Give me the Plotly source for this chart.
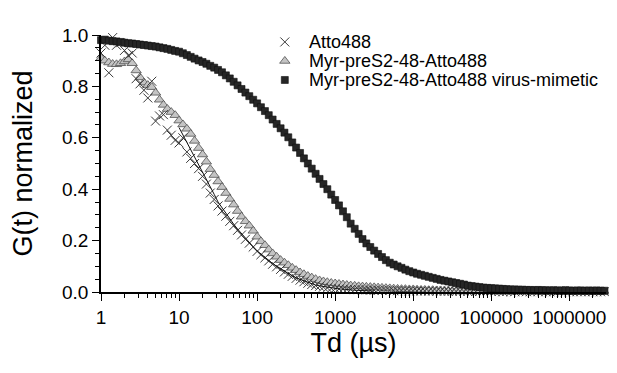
import plotly.graph_objects as go

# Lag times (µs)
TAU = [
    1.00, 1.12, 1.26, 1.41, 1.58, 1.78, 2.00, 2.24, 2.51, 2.82, 3.16, 3.55, 3.98, 4.47, 5.01, 5.62, 6.31, 7.08, 7.94, 8.91,
    10.0, 11.2, 12.6, 14.1, 15.8, 17.8, 20.0, 22.4, 25.1, 28.2, 31.6, 35.5, 39.8, 44.7, 50.1, 56.2, 63.1, 70.8, 79.4, 89.1,
    100, 112, 126, 141, 158, 178, 200, 224, 251, 282, 316, 355, 398, 447, 501, 562, 631, 708, 794, 891,
    1000, 1120, 1260, 1410, 1580, 1780, 2000, 2240, 2510, 2820, 3160, 3550, 3980, 4470, 5010, 5620, 6310, 7080, 7940, 8910,
    1.00e4, 1.12e4, 1.26e4, 1.41e4, 1.58e4, 1.78e4, 2.00e4, 2.24e4, 2.51e4, 2.82e4,
    3.16e4, 3.55e4, 3.98e4, 4.47e4, 5.01e4, 5.62e4, 6.31e4, 7.08e4, 7.94e4, 8.91e4,
    1.00e5, 1.12e5, 1.26e5, 1.41e5, 1.58e5, 1.78e5, 2.00e5, 2.24e5, 2.51e5, 2.82e5,
    3.16e5, 3.55e5, 3.98e5, 4.47e5, 5.01e5, 5.62e5, 6.31e5, 7.08e5, 7.94e5, 8.91e5,
    1.00e6, 1.12e6, 1.26e6, 1.41e6, 1.58e6, 1.78e6, 2.00e6, 2.24e6, 2.51e6, 2.82e6,
]

ATTO488 = [
    0.93, 0.96, 0.853, 0.99, 0.96, 0.97, 0.94, 0.92, 0.93, 0.83, 0.81, 0.785, 0.755, 0.82, 0.665, 0.685, 0.69, 0.63, 0.61, 0.59,
    0.58, 0.60, 0.545, 0.52, 0.50, 0.48, 0.45, 0.42, 0.385, 0.36, 0.335, 0.315, 0.295, 0.275, 0.258, 0.24, 0.222, 0.205, 0.19, 0.175,
    0.158, 0.145, 0.133, 0.121, 0.108, 0.098, 0.088, 0.078, 0.069, 0.061, 0.053, 0.046, 0.040, 0.034, 0.029, 0.025, 0.022, 0.019, 0.016, 0.014,
    0.013, 0.012, 0.011, 0.010, 0.010, 0.009, 0.009, 0.008, 0.008, 0.007, 0.007, 0.007, 0.006, 0.006, 0.006, 0.005, 0.005, 0.005, 0.005, 0.004,
    0.004, 0.004, 0.004, 0.004, 0.003, 0.004, 0.003, 0.003, 0.003, 0.003, 0.003, 0.002, 0.003, 0.002, 0.002, 0.003, 0.002, 0.002, 0.002, 0.002,
    0.002, 0.001, 0.002, 0.001, 0.002, 0.001, 0.001, 0.002, 0.001, 0.001, 0.001, 0.002, 0.001, 0.001, 0.001, 0.001, 0.001, 0.002, 0.001, 0.001,
    0.001, 0.001, 0.001, 0.001, 0.001, 0.001, 0.001, 0.001, 0.001, 0.001,
]

# Fit curve through the Atto488 data, from TAU[20] (10 µs) onward
FIT_START = 20
ATTO488_FIT = [
    0.640, 0.612, 0.584, 0.556, 0.528, 0.500, 0.470, 0.440, 0.410, 0.380, 0.350, 0.327, 0.305, 0.284, 0.264, 0.245, 0.227, 0.209, 0.192, 0.176,
    0.160, 0.147, 0.135, 0.123, 0.111, 0.100, 0.090, 0.080, 0.071, 0.063, 0.055, 0.049, 0.043, 0.037, 0.032, 0.027, 0.024, 0.021, 0.018, 0.016,
    0.014, 0.012, 0.011, 0.009, 0.008, 0.007, 0.006, 0.006, 0.005, 0.005, 0.004,
]

MYR = [
    0.91, 0.90, 0.893, 0.887, 0.886, 0.89, 0.897, 0.905, 0.89, 0.862, 0.835, 0.815, 0.805, 0.797, 0.775, 0.748, 0.728, 0.712, 0.70, 0.688,
    0.667, 0.652, 0.635, 0.615, 0.588, 0.56, 0.535, 0.507, 0.478, 0.455, 0.43, 0.408, 0.385, 0.362, 0.34, 0.315, 0.293, 0.275, 0.258, 0.238,
    0.215, 0.197, 0.182, 0.165, 0.15, 0.137, 0.124, 0.114, 0.104, 0.094, 0.085, 0.076, 0.069, 0.062, 0.056, 0.050, 0.045, 0.041, 0.038, 0.035,
    0.033, 0.031, 0.029, 0.027, 0.025, 0.024, 0.022, 0.021, 0.020, 0.019, 0.018, 0.017, 0.016, 0.015, 0.014, 0.013, 0.012, 0.011, 0.011, 0.010,
    0.010, 0.009, 0.008, 0.008, 0.007, 0.007, 0.006, 0.006, 0.005, 0.005, 0.004, 0.004, 0.004, 0.004, 0.003, 0.003, 0.003, 0.003, 0.003, 0.003,
    0.002, 0.003, 0.002, 0.002, 0.002, 0.002, 0.002, 0.001, 0.002, 0.002, 0.001, 0.002, 0.001, 0.002, 0.001, 0.001, 0.002, 0.001, 0.001, 0.001,
    0.001, 0.001, 0.001, 0.001, 0.001, 0.001, 0.001, 0.001, 0.001, 0.001,
]

VIRUS = [
    0.980, 0.982, 0.978, 0.976, 0.975, 0.973, 0.970, 0.968, 0.967, 0.965, 0.963, 0.961, 0.959, 0.957, 0.955, 0.952, 0.949, 0.946, 0.942, 0.938,
    0.935, 0.929, 0.922, 0.915, 0.908, 0.901, 0.895, 0.888, 0.880, 0.873, 0.864, 0.855, 0.843, 0.831, 0.818, 0.804, 0.790, 0.776, 0.762, 0.748,
    0.734, 0.719, 0.704, 0.688, 0.671, 0.654, 0.637, 0.620, 0.602, 0.582, 0.562, 0.541, 0.520, 0.500, 0.480, 0.460, 0.440, 0.420, 0.400, 0.379,
    0.358, 0.337, 0.314, 0.291, 0.266, 0.246, 0.226, 0.206, 0.189, 0.175, 0.161, 0.148, 0.136, 0.124, 0.114, 0.107, 0.100, 0.094, 0.087, 0.081,
    0.076, 0.071, 0.067, 0.063, 0.059, 0.055, 0.051, 0.047, 0.044, 0.041, 0.038, 0.035, 0.032, 0.029, 0.025, 0.023, 0.021, 0.019, 0.017, 0.016,
    0.015, 0.014, 0.013, 0.012, 0.011, 0.010, 0.010, 0.009, 0.009, 0.008, 0.008, 0.007, 0.008, 0.007, 0.007, 0.006, 0.007, 0.006, 0.006, 0.007,
    0.006, 0.005, 0.006, 0.006, 0.005, 0.006, 0.005, 0.006, 0.005, 0.005,
]

SERIES_NAMES = ["Atto488", "Myr-preS2-48-Atto488", "Myr-preS2-48-Atto488 virus-mimetic"]
X_TICKS = [1, 10, 100, 1000, 10000, 100000, 1000000]
X_TICKTEXT = ["1", "10", "100", "1000", "10000", "100000", "1000000"]
Y_TICKS = [0.0, 0.2, 0.4, 0.6, 0.8, 1.0]

FONT = "Liberation Sans, Arial, sans-serif"
CROSS = dict(symbol="x-thin", size=9, line=dict(width=1, color="#3a3a3a"))
TRI = dict(symbol="triangle-up", size=9, color="#c4c4c4", line=dict(width=0.8, color="#505050"))
SQ = dict(symbol="square", size=7, color="#262626", line=dict(width=0.6, color="#111111"))

fig = go.Figure()
fig.add_trace(go.Scatter(x=TAU, y=MYR, mode="markers", marker=TRI, cliponaxis=False,
                         name=SERIES_NAMES[1], showlegend=False))
fig.add_trace(go.Scatter(x=TAU, y=ATTO488, mode="markers", marker=CROSS, cliponaxis=False,
                         name=SERIES_NAMES[0], showlegend=False))
fig.add_trace(go.Scatter(x=TAU[FIT_START:FIT_START + len(ATTO488_FIT)], y=ATTO488_FIT, mode="lines",
                         line=dict(color="#111111", width=1), cliponaxis=False,
                         name="fit", showlegend=False))
fig.add_trace(go.Scatter(x=TAU, y=VIRUS, mode="markers", marker=SQ, cliponaxis=False,
                         name=SERIES_NAMES[2], showlegend=False))

# Hand-placed legend (symbols on an overlay axis in plot-fraction units, text as annotations)
LEG_X = 0.364
LEG_TX = 0.408
LEG_Y = [0.973, 0.899, 0.825]
for yy, mk in zip(LEG_Y, [CROSS, TRI, SQ]):
    fig.add_trace(go.Scatter(x=[LEG_X], y=[yy], xaxis="x2", yaxis="y2", mode="markers",
                             marker=mk, cliponaxis=False, showlegend=False, hoverinfo="skip"))
for yy, name in zip(LEG_Y, SERIES_NAMES):
    fig.add_annotation(x=LEG_TX, y=yy, xref="paper", yref="paper", text=name, showarrow=False,
                       xanchor="left", yanchor="middle", font=dict(family=FONT, size=18, color="#000"))

minor_x = [m * 10 ** d for d in range(0, 7) for m in range(2, 10)]

# the page body has an 8px margin, so the figure is sized/offset to compensate
fig.update_layout(
    width=601, height=357,
    margin=dict(l=93, r=3, t=27, b=73),
    paper_bgcolor="white", plot_bgcolor="white",
    font=dict(family=FONT, color="#000"),
    showlegend=False,
    xaxis=dict(
        type="log", range=[0, 6.47],
        tickmode="array", tickvals=X_TICKS, ticktext=X_TICKTEXT,
        ticks="outside", ticklen=7, tickwidth=1.3, tickcolor="#000",
        showline=True, linecolor="#000", linewidth=1.5, mirror=False,
        showgrid=False, zeroline=False, automargin=False,
        tickfont=dict(family=FONT, size=19),
        minor=dict(tickvals=minor_x, ticks="outside", ticklen=4, tickwidth=1, tickcolor="#000", showgrid=False),
        title=dict(text="Td (µs)", font=dict(family=FONT, size=27), standoff=6),
    ),
    yaxis=dict(
        range=[0, 1.0],
        tickmode="array", tickvals=Y_TICKS, tickformat=".1f",
        ticks="outside", ticklen=7, tickwidth=1.3, tickcolor="#000",
        showline=True, linecolor="#000", linewidth=1.5, mirror=False,
        showgrid=False, zeroline=False, automargin=False,
        tickfont=dict(family=FONT, size=19),
        minor=dict(dtick=0.05, ticks="outside", ticklen=4, tickwidth=1, tickcolor="#000", showgrid=False),
        title=dict(text="G(t) normalized", font=dict(family=FONT, size=27), standoff=23),
    ),
    xaxis2=dict(overlaying="x", range=[0, 1], visible=False, fixedrange=True),
    yaxis2=dict(overlaying="y", range=[0, 1], visible=False, fixedrange=True),
)

fig.write_html("out.html")
